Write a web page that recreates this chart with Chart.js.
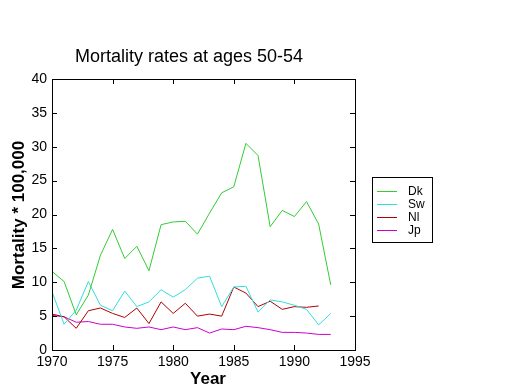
<!DOCTYPE html>
<html>
<head>
<meta charset="utf-8">
<script src="https://cdn.jsdelivr.net/npm/chart.js@4"></script>
<style>
  body { margin: 0; background: #fff; }
  canvas { display: block; }
</style>
</head>
<body>
<canvas id="chart" width="520" height="390"></canvas>
<script>
// Years and mortality rates
const years = [1970, 1971, 1972, 1973, 1974, 1975, 1976, 1977, 1978, 1979, 1980, 1981,
  1982, 1983, 1984, 1985, 1986, 1987, 1988, 1989, 1990, 1991, 1992, 1993]
const dk = [11.6, 10.1, 5.2, 8.1, 14.0, 17.8, 13.5, 15.3, 11.7, 18.5, 18.9, 19.0,
  17.1, 20.2, 23.2, 24.1, 30.5, 28.7, 18.2, 20.6, 19.7, 21.9, 18.6, 9.6]
const sw = [8.6, 3.8, 5.9, 10.1, 6.6, 5.8, 8.7, 6.4, 7.1, 8.9, 7.8, 8.9,
  10.6, 10.9, 6.4, 9.3, 9.4, 5.6, 7.4, 7.1, 6.6, 6.0, 3.7, 5.4]
const nl = [5.3, 4.9, 3.2, 5.8, 6.2, 5.4, 4.8, 6.2, 3.9, 7.1, 5.4, 6.9,
  5.0, 5.3, 5.0, 9.3, 8.4, 6.4, 7.2, 6.0, 6.4, 6.3, 6.5, null]
const jp = [5.1, 4.9, 4.1, 4.2, 3.8, 3.8, 3.4, 3.2, 3.4, 3.0, 3.4, 3.0,
  3.3, 2.5, 3.1, 3.0, 3.5, 3.3, 3.0, 2.6, 2.6, 2.5, 2.3, 2.3]
const seriesNames = ['Dk', 'Sw', 'Nl', 'Jp']
const seriesColors = ['#33cc33', '#33dddd', '#b00000', '#cc00cc']
const xTicks = [1970, 1975, 1980, 1985, 1990, 1995]
const yTicks = [0, 5, 10, 15, 20, 25, 30, 35, 40]

const tickFont = { family: 'Arial, sans-serif', size: 14 }

function toPoints(values) {
  return years.map((y, i) => ({ x: y, y: values[i] })).filter(p => p.y !== null)
}

// Draws the box, inward ticks, titles and legend
const decorations = {
  id: 'decorations',
  afterDraw(chart) {
    const ctx = chart.ctx
    const a = chart.chartArea
    const xs = chart.scales.x
    const ys = chart.scales.y
    ctx.save()
    ctx.strokeStyle = '#000'
    ctx.lineWidth = 1
    ctx.strokeRect(Math.round(a.left) + 0.5, Math.round(a.top) + 0.5,
      Math.round(a.right - a.left), Math.round(a.bottom - a.top))
    ctx.beginPath()
    xTicks.forEach(v => {
      const px = Math.round(xs.getPixelForValue(v)) + 0.5
      ctx.moveTo(px, a.bottom); ctx.lineTo(px, a.bottom - 5)
      ctx.moveTo(px, a.top); ctx.lineTo(px, a.top + 5)
    })
    yTicks.forEach(v => {
      const py = Math.round(ys.getPixelForValue(v)) + 0.5
      ctx.moveTo(a.left, py); ctx.lineTo(a.left + 5, py)
      ctx.moveTo(a.right, py); ctx.lineTo(a.right - 5, py)
    })
    ctx.stroke()

    ctx.fillStyle = '#000'
    ctx.textAlign = 'center'
    ctx.textBaseline = 'alphabetic'
    ctx.font = '18px Arial, sans-serif'
    ctx.fillText('Mortality rates at ages 50-54', 189, 62)
    ctx.font = 'bold 17px Arial, sans-serif'
    ctx.fillText('Year', 208, 384)
    ctx.save()
    ctx.translate(24, 215)
    ctx.rotate(-Math.PI / 2)
    ctx.fillText('Mortality * 100,000', 0, 0)
    ctx.restore()

    // legend
    ctx.strokeStyle = '#000'
    ctx.strokeRect(372.5, 177.5, 60, 65)
    ctx.font = '12px Arial, sans-serif'
    ctx.textAlign = 'left'
    ctx.textBaseline = 'middle'
    seriesNames.forEach((name, i) => {
      const y = 191.5 + i * 13
      ctx.strokeStyle = seriesColors[i]
      ctx.beginPath()
      ctx.moveTo(377, y); ctx.lineTo(397, y)
      ctx.stroke()
      ctx.fillStyle = '#000'
      ctx.fillText(name, 408, y)
    })
    ctx.restore()
  }
}

new Chart(document.getElementById('chart'), {
  type: 'line',
  data: {
    datasets: [dk, sw, nl, jp].map((values, i) => ({
      label: seriesNames[i],
      data: toPoints(values),
      borderColor: seriesColors[i],
      borderWidth: 1,
      pointRadius: 0,
      tension: 0,
      fill: false
    }))
  },
  options: {
    responsive: false,
    animation: false,
    layout: { padding: { top: 79, right: 165, left: 0, bottom: 0 } },
    plugins: {
      legend: { display: false },
      title: { display: false },
      tooltip: { enabled: false }
    },
    scales: {
      x: {
        type: 'linear',
        min: 1970,
        max: 1995,
        afterFit: s => { s.height = 40 },
        afterBuildTicks: s => { s.ticks = xTicks.map(v => ({ value: v })) },
        grid: { display: false },
        border: { display: false },
        ticks: { color: '#000', font: tickFont, padding: -4, maxRotation: 0, autoSkip: false,
          callback: v => String(v) }
      },
      y: {
        min: 0,
        max: 40,
        afterFit: s => { s.width = 52 },
        afterBuildTicks: s => { s.ticks = yTicks.map(v => ({ value: v })) },
        grid: { display: false },
        border: { display: false },
        ticks: { color: '#000', font: tickFont, padding: -3, autoSkip: false }
      }
    }
  },
  plugins: [decorations]
})
</script>
</body>
</html>
